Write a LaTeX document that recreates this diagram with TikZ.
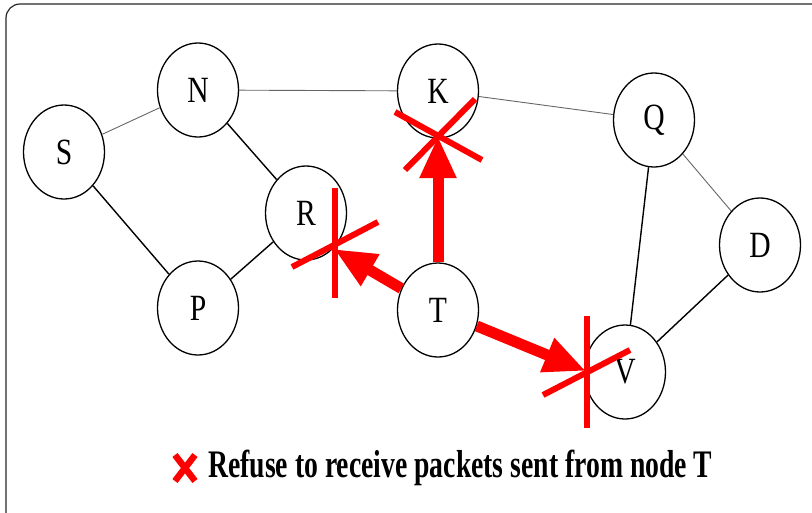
\documentclass[tikz,border=0pt]{standalone}
\usepackage{fontspec}
\setmainfont{Liberation Serif}
\usetikzlibrary{shapes.geometric,arrows.meta}

% squeeze text sideways
\newcommand{\narrowtext}[2]{\scalebox{#1}[1]{#2}}

\tikzset{
	peer/.style={ellipse, draw, line width=1.3pt, minimum width=81pt, minimum height=94pt, inner sep=0pt, font=\fontsize{37}{40}\selectfont},
	link/.style={line width=1.4pt},
	weaklink/.style={line width=0.9pt, black!60},
	attack/.style={red, line width=11pt, -{Triangle[length=42pt,width=34pt]}},
	refuse/.style={red, line width=6pt}
}

\begin{document}
\begin{tikzpicture}[x=1pt,y=-1pt]
	\useasboundingbox (0,0) rectangle (812,512);
	\clip (0,0) rectangle (812,512);

	% Frame
	\draw[line width=1.2pt, black!85, rounded corners=14pt] (6,4) rectangle (840,540);

	% Draw the nodes
	\node[peer] (S) at (64,152) {\narrowtext{0.8}{S}};
	\node[peer] (N) at (198,90) {\narrowtext{0.8}{N}};
	\node[peer] (K) at (438,91) {\narrowtext{0.8}{K}};
	\node[peer] (Q) at (654,120) {\narrowtext{0.8}{Q}};
	\node[peer] (D) at (760,245) {\narrowtext{0.8}{D}};
	\node[peer] (R) at (306,213) {\narrowtext{0.8}{R}};
	\node[peer] (P) at (198,308) {\narrowtext{0.8}{P}};
	\node[peer] (T) at (438,310) {\narrowtext{0.8}{T}};
	\node[peer] (V) at (625,372) {\narrowtext{0.8}{V}};

	% Draw the links
	\draw[weaklink] (S) -- (N);
	\draw[weaklink] (N) -- (K);
	\draw[weaklink] (K) -- (Q);
	\draw[weaklink] (Q) -- (D);
	\draw[link] (S) -- (P);
	\draw[link] (N) -- (R);
	\draw[link] (R) -- (P);
	\draw[link] (Q) -- (V);
	\draw[link] (D) -- (V);

	% Draw the packets sent by T
	\coordinate (xk) at (438,136);
	\coordinate (xr) at (334,249);
	\coordinate (xv) at (586,371);
	\draw[attack] (T) -- (xk);
	\draw[attack] (T) -- (xr);
	\draw[attack] (T) -- (xv);

	% Draw the refusals
	\draw[refuse] ([shift={(-43,-24)}]xk) -- ([shift={(44,24)}]xk);
	\draw[refuse] ([shift={(37,-37)}]xk) -- ([shift={(-33,34)}]xk);
	\draw[refuse] ([shift={(1,-61)}]xr) -- ([shift={(1,49)}]xr);
	\draw[refuse] ([shift={(-42,18)}]xr) -- ([shift={(44,-27)}]xr);
	\draw[refuse] ([shift={(1,-55)}]xv) -- ([shift={(1,57)}]xv);
	\draw[refuse] ([shift={(-43,24)}]xv) -- ([shift={(44,-21)}]xv);

	% Legend
	\coordinate (mark) at (185,468);
	\draw[red, line width=6.5pt] ([shift={(-10,-13)}]mark) -- ([shift={(10,13)}]mark);
	\draw[red, line width=6.5pt] ([shift={(10,-13)}]mark) -- ([shift={(-10,13)}]mark);
	\node[anchor=west, inner sep=0pt, font=\fontsize{39}{42}\bfseries] (legend) at (208,468) {\narrowtext{0.71}{Refuse to receive packets sent from node T}};
\end{tikzpicture}
\end{document}
